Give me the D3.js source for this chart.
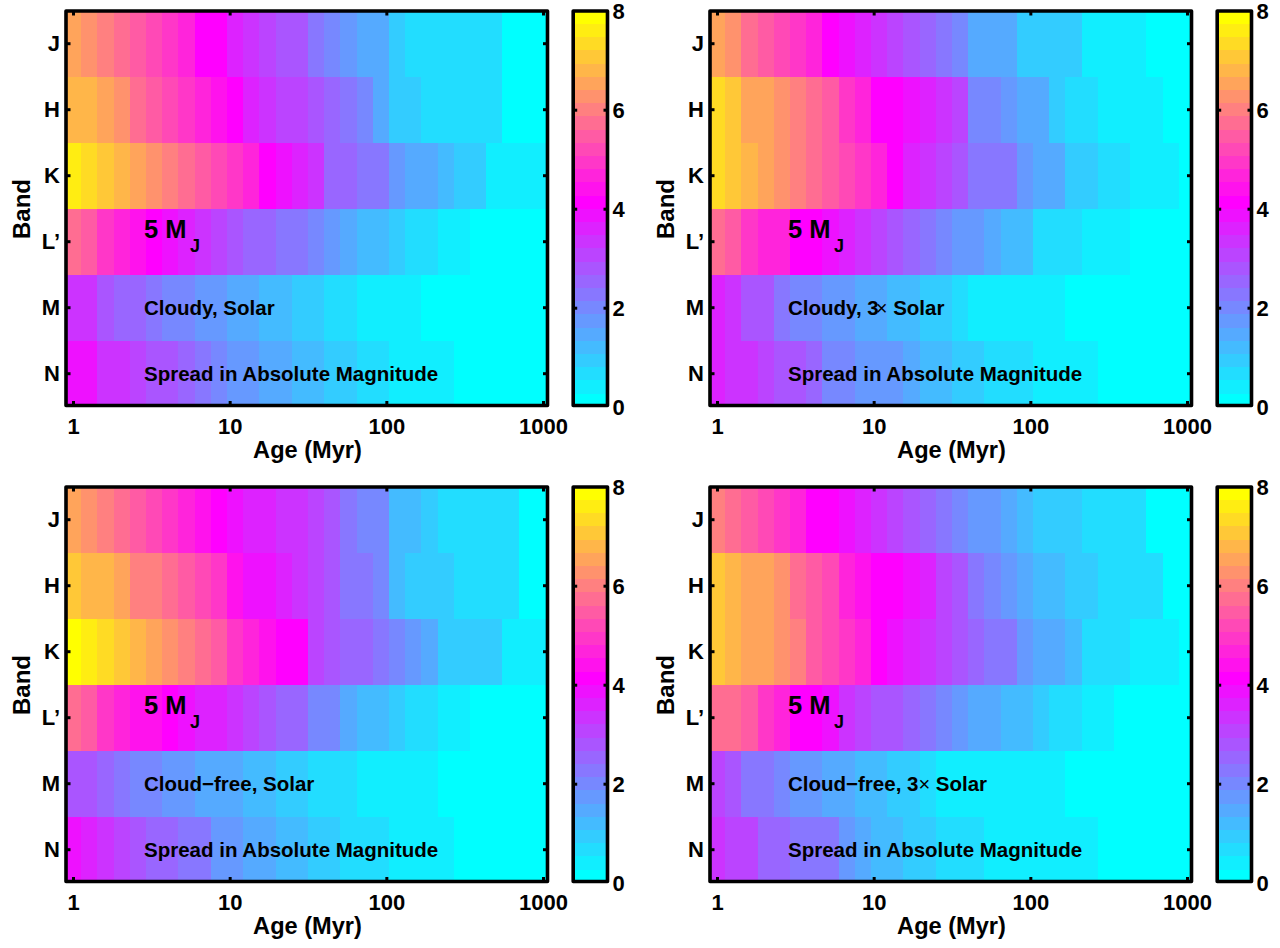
<!DOCTYPE html>
<html><head><meta charset="utf-8">
<style>html,body{margin:0;padding:0;background:#fff}svg{display:block}text{font-family:"Liberation Sans",Arial,sans-serif;font-weight:bold;fill:#000}</style>
<script src="https://cdn.jsdelivr.net/npm/d3@7/dist/d3.min.js"></script></head><body>
<svg id="c" width="1280" height="948"></svg>
<script>
const bands=["J","H","K","L’","M","N"];
const ageTicks=[1,10,100,1000];
const cbTicks=[0,2,4,6,8];
// spread in absolute magnitude, columns = 30 log-spaced ages 1–1000 Myr
const cloudySolar=[
[6.5,6.3,6.0,5.7,5.5,5.2,4.9,4.7,4.1,4.1,3.6,3.3,3.1,2.8,2.8,2.3,2.0,1.7,1.5,1.5,0.9,0.7,0.7,0.7,0.7,0.7,0.7,0.1,0.1,0.1],
[6.8,6.8,6.5,6.3,5.7,5.5,5.2,4.9,4.7,4.4,4.1,3.6,3.3,3.1,3.1,2.8,2.5,2.3,2.0,1.5,0.9,0.9,0.7,0.7,0.7,0.7,0.7,0.1,0.1,0.1],
[7.6,7.3,7.1,6.8,6.5,6.3,6.0,5.7,5.5,5.2,4.9,4.7,4.1,3.9,3.6,3.3,2.5,2.5,2.3,2.3,1.7,1.5,1.5,1.2,0.9,0.9,0.4,0.4,0.4,0.4],
[5.7,5.5,4.9,4.7,4.4,4.1,3.9,3.6,3.3,3.1,2.8,2.5,2.5,2.3,2.3,2.0,1.7,1.5,1.2,1.2,0.9,0.7,0.7,0.4,0.4,0.1,0.1,0.1,0.1,0.1],
[3.3,3.3,2.8,2.5,2.5,2.3,2.0,2.0,1.7,1.7,1.5,1.5,1.2,1.2,0.9,0.9,0.7,0.7,0.4,0.4,0.4,0.4,0.1,0.1,0.1,0.1,0.1,0.1,0.1,0.1],
[3.9,3.9,3.3,3.3,3.1,2.8,2.8,2.5,2.3,2.0,1.7,1.7,1.5,1.5,1.2,1.2,0.9,0.9,0.7,0.7,0.4,0.4,0.4,0.4,0.1,0.1,0.1,0.1,0.1,0.1]];
const cloudy3x=[
[6.5,6.3,5.7,5.5,5.2,4.9,4.7,4.1,3.9,3.6,3.3,3.1,2.8,2.5,2.3,2.0,1.5,1.5,1.5,0.9,0.9,0.9,0.9,0.4,0.4,0.4,0.4,0.1,0.1,0.1],
[7.3,7.1,6.5,6.5,6.3,6.0,5.7,5.5,4.9,4.7,4.1,4.1,3.9,3.6,3.3,3.1,2.0,2.0,1.7,1.5,1.5,0.9,0.7,0.7,0.4,0.4,0.4,0.4,0.1,0.1],
[7.3,7.1,6.8,6.5,6.3,6.0,5.7,5.5,5.2,4.9,4.7,4.1,3.6,3.3,3.1,2.8,2.3,2.3,2.3,1.7,1.5,1.5,0.9,0.9,0.7,0.7,0.4,0.4,0.4,0.1],
[5.7,5.5,4.9,4.7,4.7,4.1,4.1,3.9,3.6,3.3,3.1,2.8,2.5,2.3,2.0,1.7,1.7,1.5,1.2,1.2,0.7,0.7,0.7,0.4,0.4,0.4,0.1,0.1,0.1,0.1],
[3.6,3.3,2.8,2.8,2.3,2.0,2.0,1.7,1.7,1.5,1.5,1.2,1.2,0.9,0.9,0.7,0.4,0.4,0.4,0.4,0.4,0.4,0.1,0.1,0.1,0.1,0.1,0.1,0.1,0.1],
[3.6,3.3,3.3,3.1,2.8,2.8,2.5,2.0,2.0,1.7,1.7,1.7,1.5,1.2,1.2,0.9,0.9,0.7,0.7,0.7,0.4,0.4,0.4,0.4,0.1,0.1,0.1,0.1,0.1,0.1]];
const cloudFreeSolar=[
[6.5,6.3,6.0,5.7,5.5,5.2,4.9,4.7,4.4,4.1,3.9,3.6,3.6,3.3,3.3,3.1,2.8,2.3,2.0,2.0,1.2,1.2,0.9,0.7,0.7,0.7,0.7,0.7,0.1,0.1],
[7.1,6.8,6.8,6.5,6.0,6.0,5.7,5.5,5.2,4.9,4.4,3.9,3.9,3.6,3.3,3.1,2.8,2.3,2.3,2.0,1.2,0.9,0.9,0.9,0.7,0.7,0.7,0.7,0.1,0.1],
[7.9,7.6,7.3,7.1,6.8,6.5,6.3,6.0,5.7,5.5,4.9,4.7,4.4,4.1,4.1,3.1,2.8,2.5,2.5,2.3,2.0,1.7,1.5,0.9,0.9,0.9,0.9,0.4,0.4,0.4],
[5.7,5.5,4.9,4.7,4.4,4.4,4.1,3.9,3.6,3.6,3.3,3.1,2.8,2.5,2.5,2.0,2.0,1.5,1.2,1.2,0.9,0.7,0.7,0.4,0.4,0.1,0.1,0.1,0.1,0.1],
[2.8,2.8,2.5,2.3,2.0,2.0,1.7,1.7,1.5,1.5,1.5,1.2,1.2,0.9,0.9,0.7,0.7,0.7,0.4,0.4,0.4,0.4,0.4,0.1,0.1,0.1,0.1,0.1,0.1,0.1],
[3.9,3.6,3.3,3.1,2.8,2.5,2.5,2.3,2.3,1.7,1.7,1.5,1.5,1.2,1.2,0.9,0.9,0.7,0.7,0.7,0.4,0.4,0.4,0.4,0.1,0.1,0.1,0.1,0.1,0.1]];
const cloudFree3x=[
[6.0,5.7,5.5,5.2,4.9,4.7,4.1,4.1,3.9,3.6,3.3,3.1,2.8,2.5,2.3,2.0,1.7,1.7,1.5,1.2,0.9,0.9,0.9,0.7,0.7,0.7,0.7,0.1,0.1,0.1],
[7.1,6.8,6.5,6.5,6.3,5.7,5.5,5.2,4.7,4.4,4.1,4.1,3.9,3.6,3.1,2.8,2.3,2.0,1.7,1.5,1.2,1.2,0.9,0.9,0.7,0.7,0.7,0.7,0.1,0.1],
[7.1,6.8,6.5,6.5,6.3,6.0,5.5,5.2,4.9,4.7,4.1,3.9,3.6,3.3,3.1,2.8,2.5,2.3,2.3,1.7,1.5,1.5,1.2,0.7,0.7,0.7,0.4,0.4,0.4,0.1],
[5.7,5.7,5.5,4.9,4.7,4.1,4.1,3.9,3.3,3.1,2.8,2.8,2.5,2.3,2.0,1.7,1.5,1.5,1.2,1.2,0.9,0.7,0.7,0.4,0.4,0.1,0.1,0.1,0.1,0.1],
[3.1,2.8,2.3,2.3,2.0,1.7,1.7,1.5,1.5,1.2,1.2,0.9,0.9,0.7,0.4,0.4,0.4,0.4,0.4,0.4,0.4,0.4,0.1,0.1,0.1,0.1,0.1,0.1,0.1,0.1],
[3.3,3.1,3.1,2.5,2.5,2.3,2.3,2.3,1.7,1.5,1.2,1.2,0.9,0.9,0.7,0.7,0.7,0.4,0.4,0.4,0.4,0.4,0.4,0.4,0.1,0.1,0.1,0.1,0.1,0.1]];

const panels=[
 {x:66,y:11,data:cloudySolar,label:["Cloudy, Solar"],tdx:0},
 {x:710,y:11,data:cloudy3x,label:["Cloudy, 3","×"," Solar"],tdx:-3},
 {x:66,y:487,data:cloudFreeSolar,label:["Cloud−free, Solar"],tdx:0},
 {x:710,y:487,data:cloudFree3x,label:["Cloud−free, 3","×"," Solar"],tdx:0}];

const W=481.5,H=394.5,CBX=507.2,CBW=34.3,N=30,LEVELS=30;
const palette=d3.range(LEVELS).map(i=>i<=15
  ? d3.rgb(255*i/15,255*(1-i/15),255).formatHex()
  : d3.rgb(255,255*(i-15)/14,255*(1-(i-15)/14)).formatHex());
const color=d3.scaleQuantize().domain([0,8]).range(palette);
const svg=d3.select("#c");
const step=3/(N-1);
const edge=i=>Math.pow(10,(i-0.5)*step);
const FRAME=3.6;

panels.forEach((p,pi)=>{
  const g=svg.append("g").attr("transform",`translate(${p.x},${p.y})`);
  const x=d3.scaleLog().domain([1,1000]).range([7,477]);
  const y=d3.scaleBand().domain(bands).range([-0.3,395.7]);
  const clipId="clip"+pi;
  g.append("clipPath").attr("id",clipId).append("rect").attr("width",W).attr("height",H);
  const cells=g.append("g").attr("clip-path",`url(#${clipId})`).attr("shape-rendering","crispEdges");
  p.data.forEach((row,r)=>{
    cells.append("g").selectAll("rect").data(row).join("rect")
     .attr("x",(d,i)=>x(edge(i))).attr("width",(d,i)=>x(edge(i+1))-x(edge(i)))
     .attr("y",y(bands[r])).attr("height",y.bandwidth()).attr("fill",d=>color(d));
  });
  const tick=(sel)=>sel.attr("stroke","#000").attr("stroke-width",3);
  const xb=g.append("g").attr("transform",`translate(0,${H})`).call(d3.axisBottom(x).tickValues(ageTicks).tickFormat(d3.format("d")).tickSize(-4.5).tickPadding(13));
  const xt=g.append("g").call(d3.axisTop(x).tickValues(ageTicks).tickFormat("").tickSize(-4.5));
  const yl=g.append("g").call(d3.axisLeft(y).tickSize(-4.5).tickPadding(4));
  const yr=g.append("g").attr("transform",`translate(${W},0)`).call(d3.axisRight(y).tickFormat("").tickSize(-4.5));
  [xb,xt,yl,yr].forEach(a=>{a.select(".domain").remove();tick(a.selectAll("line"));a.selectAll("text").attr("font-size",22).attr("font-family",null).attr("fill","#000");});
  yl.selectAll("text").attr("x",-6);
  g.append("rect").attr("width",W).attr("height",H).attr("fill","none").attr("stroke","#000").attr("stroke-width",FRAME).attr("stroke-linejoin","round");
  g.append("text").attr("x",241.5).attr("y",447).attr("text-anchor","middle").attr("font-size",23.6).text("Age (Myr)");
  g.append("text").attr("transform",`translate(-36.5,198) rotate(-90)`).attr("text-anchor","middle").attr("font-size",24).text("Band");
  g.append("text").attr("x",78).attr("y",227).attr("font-size",25.5).text("5 M");
  g.append("text").attr("x",124).attr("y",241).attr("font-size",18).text("J");
  const l=g.append("text").attr("x",78).attr("y",304).attr("font-size",20.5);
  p.label.forEach(s=> s==="×"
    ? l.append("tspan").attr("dx",p.tdx).attr("font-weight","normal").attr("font-size",20).text(s)
    : l.append("tspan").text(s));
  g.append("text").attr("x",78).attr("y",370).attr("font-size",20.5).text("Spread in Absolute Magnitude");
  const cb=g.append("g").attr("transform",`translate(${CBX},0)`);
  const cy=d3.scaleLinear().domain([0,8]).range([395.7,-0.3]);
  g.append("clipPath").attr("id",clipId+"b").append("rect").attr("width",CBW).attr("height",H);
  cb.append("g").attr("clip-path",`url(#${clipId}b)`).attr("shape-rendering","crispEdges").selectAll("rect").data(palette).join("rect")
    .attr("x",0).attr("width",CBW).attr("y",(d,i)=>cy((i+1)*8/LEVELS)).attr("height",396/LEVELS).attr("fill",d=>d);
  const cr=cb.append("g").attr("transform",`translate(${CBW},0)`).call(d3.axisRight(cy).tickValues(cbTicks).tickFormat(d3.format("d")).tickSize(-4).tickPadding(5));
  const cl=cb.append("g").call(d3.axisLeft(cy).tickValues(cbTicks).tickFormat("").tickSize(-4));
  [cr,cl].forEach(a=>{a.select(".domain").remove();tick(a.selectAll("line"));a.selectAll(".tick line").filter(d=>d===0||d===8).remove();a.selectAll("text").attr("font-size",22).attr("font-family",null).attr("fill","#000").attr("dy","0.37em");});
  cb.append("rect").attr("width",CBW).attr("height",H).attr("fill","none").attr("stroke","#000").attr("stroke-width",FRAME).attr("stroke-linejoin","round");
});
</script></body></html>
